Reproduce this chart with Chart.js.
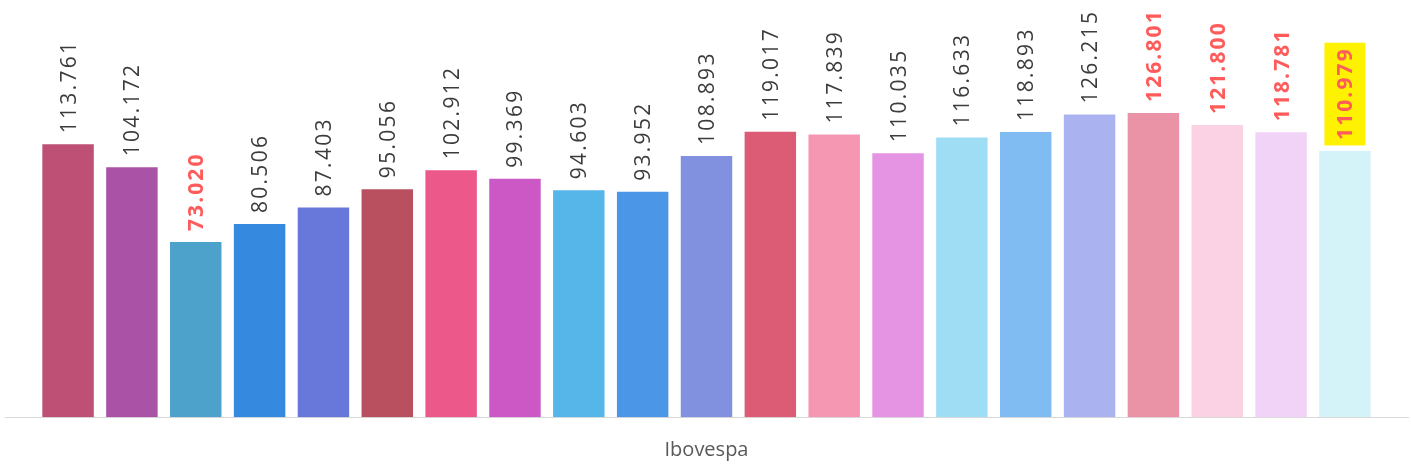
<!DOCTYPE html>
<html><head><meta charset="utf-8">
<script src="https://cdn.jsdelivr.net/npm/chart.js@4.4.1/dist/chart.umd.min.js"></script>
<style>html,body{margin:0;padding:0;background:#fff}#wrap{width:1411px;height:471px;position:relative}</style>
</head><body><div id="wrap"><canvas id="c" width="1411" height="471"></canvas></div>
<script>
const categories = ['Ibovespa'];
const seriesNames = ['Série 1','Série 2','Série 3','Série 4','Série 5','Série 6','Série 7','Série 8','Série 9','Série 10','Série 11','Série 12','Série 13','Série 14','Série 15','Série 16','Série 17','Série 18','Série 19','Série 20','Série 21'];
const values = [113761,104172,73020,80506,87403,95056,102912,99369,94603,93952,108893,119017,117839,110035,116633,118893,126215,126801,121800,118781,110979];
const colors = ['#BE4F75','#A952A6','#4CA2CA','#3589DF','#6878DA','#B9505F','#EC5889','#CB58C4','#56B6EA','#4C96E8','#8290E0','#DC5C76','#F597B2','#E594E4','#9FDDF5','#80BCF1','#AAB3EF','#EA93A6','#FBD2E3','#F0D3F6','#D3F3F9'];
const redLabelIdx = [2,17,18,19,20];
const highlightIdx = [20];

const fmt = v => v.toLocaleString('pt-BR');

const labelPlugin = {
  id: 'valLabels',
  afterDatasetsDraw(chart) {
    const ctx = chart.ctx;
    chart.data.datasets.forEach((ds, i) => {
      const meta = chart.getDatasetMeta(i);
      meta.data.forEach((bar, j) => {
        const txt = fmt(ds.data[j]);
        const red = redLabelIdx.includes(i);
        const fs = 21;
        ctx.save();
        ctx.translate(bar.x, bar.y);
        ctx.rotate(-Math.PI / 2);
        ctx.font = (red ? 'bold ' : '') + fs + 'px "Open Sans"';
        ctx.letterSpacing = red ? '2.1px' : '2.3px';
        ctx.textBaseline = 'alphabetic';
        ctx.textAlign = 'left';
        const w = ctx.measureText(txt).width;
        if (highlightIdx.includes(i)) {
          ctx.fillStyle = '#FFF200';
          ctx.fillRect(5.5, -20.5, w + 10, 41);
        }
        ctx.fillStyle = red ? '#FF5B5B' : '#3C3C3C';
        ctx.fillText(txt, 11, fs * 0.357);
        ctx.restore();
      });
    });
  }
};

new Chart(document.getElementById('c'), {
  type: 'bar',
  data: {
    labels: categories,
    datasets: seriesNames.map((n, i) => ({
      label: n,
      data: [values[i]],
      backgroundColor: colors[i],
      borderWidth: 0,
      barPercentage: 0.806,
      categoryPercentage: 0.9556
    }))
  },
  options: {
    responsive: false,
    animation: false,
    layout: { padding: { left: 5, right: 3, top: 33.3, bottom: -11.7 } },
    plugins: { legend: { display: false }, tooltip: { enabled: false } },
    scales: {
      x: {
        grid: { display: false, drawTicks: false },
        border: { display: true, color: '#D9D9D9', width: 1 },
        ticks: { color: '#595959', font: { family: 'Open Sans', size: 20 }, padding: 20.7 }
      },
      y: { display: false, min: 0, max: 160000 }
    }
  },
  plugins: [labelPlugin]
});
</script></body></html>
